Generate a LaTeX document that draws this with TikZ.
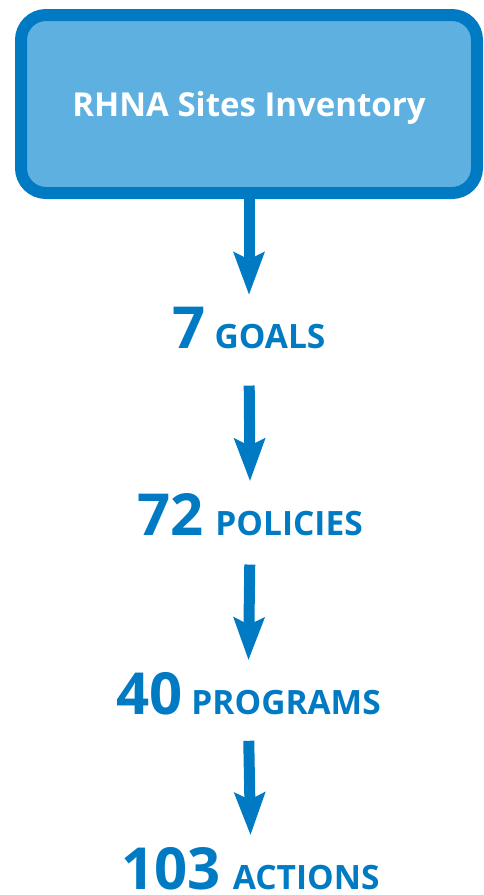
\documentclass[tikz,border=0pt]{standalone}
\usepackage{fontspec}
\setmainfont{Open Sans}
\usetikzlibrary{arrows.meta}
\definecolor{rdark}{RGB}{0,122,194}
\definecolor{rlight}{RGB}{94,176,224}
\newcommand{\bignum}[1]{{\fontsize{58}{60}\selectfont #1}}
\newcommand{\capword}[1]{{\fontsize{33.5}{36}\selectfont #1}}
\begin{document}
\begin{tikzpicture}[x=1pt,y=-1pt,
  titlebox/.style={draw=rdark, fill=rlight, line width=12pt, rounded corners=25pt,
    minimum width=456pt, minimum height=178pt, text=white, text depth=0pt,
    font=\fontsize{33}{36}\selectfont\bfseries},
  countlabel/.style={anchor=base, text=rdark, inner xsep=0pt, inner ysep=12pt, font=\bfseries},
  flowarrow/.style={draw=rdark, line width=11pt,
    -{Stealth[length=43pt, width=32pt, inset=8pt, line width=0pt]}},
]
\useasboundingbox (0,0) rectangle (483,895);
\node[titlebox] (box) at (249,104) {RHNA Sites Inventory};
\node[countlabel] (goals) at (249,348) {\bignum{7}\hspace{9pt}\capword{GOALS}};
\node[countlabel] (policies) at (250,535) {\bignum{72}\hspace{12pt}\capword{POLICIES}};
\node[countlabel] (programs) at (248.5,714) {\bignum{40}\hspace{9pt}\capword{PROGRAMS}};
\node[countlabel] (actions) at (250.5,889) {\bignum{103}\hspace{12pt}\capword{ACTIONS}};
\draw[flowarrow] (box.south) -- (goals.north);
\draw[flowarrow, shorten <=25pt] (goals.south) -- (policies.north);
\draw[flowarrow, shorten <=17pt] (policies.south) -- (programs.north);
\draw[flowarrow, shorten <=14pt] (programs.south) -- (actions.north);
\end{tikzpicture}
\end{document}
